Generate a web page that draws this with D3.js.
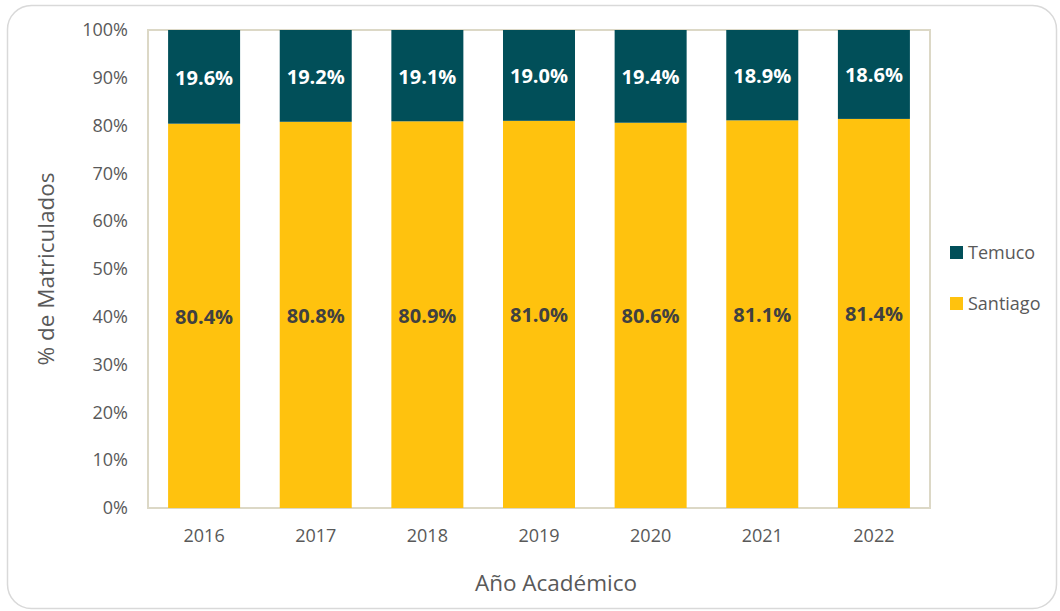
<!DOCTYPE html>
<meta charset="utf-8">
<script src="https://d3js.org/d3.v7.min.js"></script>
<style>
  body { margin: 0; background: #fff; }
  text { font-family: "Open Sans", sans-serif; }
</style>
<div id="chart"></div>
<script>
// data
const years = ["2016", "2017", "2018", "2019", "2020", "2021", "2022"];
const santiago = [80.4, 80.8, 80.9, 81.0, 80.6, 81.1, 81.4];
const temuco = [19.6, 19.2, 19.1, 19.0, 19.4, 18.9, 18.6];
const seriesNames = ["Santiago", "Temuco"];
const yTicks = [0, 10, 20, 30, 40, 50, 60, 70, 80, 90, 100];

const W = 1060, H = 611;
const margin = {top: 30, right: 130, bottom: 103, left: 148};
const width = W - margin.left - margin.right,
      height = H - margin.top - margin.bottom;
const font = "'Open Sans', sans-serif";

const color = d3.scaleOrdinal()
  .domain(seriesNames)
  .range(["#FFC20E", "#014F59"]);

const svg = d3.select("#chart").append("svg")
  .attr("width", W)
  .attr("height", H);

// outer rounded frame
svg.append("rect")
  .attr("x", 7.5).attr("y", 5.5)
  .attr("width", W - 11).attr("height", H - 8)
  .attr("rx", 24)
  .attr("fill", "#fff")
  .attr("stroke", "#d9d9d9")
  .attr("stroke-width", 1.5);

const g = svg.append("g")
  .attr("transform", `translate(${margin.left},${margin.top})`);

const table = years.map((y, i) => ({year: y, Santiago: santiago[i], Temuco: temuco[i]}));
const stacked = d3.stack().keys(seriesNames)(table);

const x = d3.scaleBand()
  .domain(years)
  .range([0, width])
  .paddingInner(0.355)
  .paddingOuter(0.18);

const y = d3.scaleLinear()
  .domain([0, 100])
  .range([height, 0]);

// plot area frame
g.append("rect")
  .attr("x", 0).attr("y", 0)
  .attr("width", width).attr("height", height)
  .attr("fill", "none")
  .attr("stroke", "#dcd8c6")
  .attr("stroke-width", 2);

// bars
g.selectAll("g.layer")
  .data(stacked)
  .join("g")
    .attr("class", "layer")
    .attr("fill", d => color(d.key))
  .selectAll("rect")
  .data(d => d)
  .join("rect")
    .attr("x", d => x(d.data.year))
    .attr("y", d => y(Math.min(d[1], 100)))
    .attr("width", x.bandwidth())
    .attr("height", d => y(d[0]) - y(Math.min(d[1], 100)));

// data labels
g.selectAll("g.labels")
  .data(stacked)
  .join("g")
    .attr("class", "labels")
  .selectAll("text")
  .data(d => d.map(v => ({v, key: d.key})))
  .join("text")
    .attr("x", d => x(d.v.data.year) + x.bandwidth() / 2)
    .attr("y", d => y((d.v[0] + Math.min(d.v[1], 100)) / 2) + 1)
    .attr("dy", "0.35em")
    .attr("text-anchor", "middle")
    .style("font-size", "20px")
    .style("font-weight", "bold")
    .attr("fill", d => d.key === "Temuco" ? "#ffffff" : "#404040")
    .text(d => d.v.data[d.key].toFixed(1) + "%");

// y axis
const yAxis = g.append("g")
  .call(d3.axisLeft(y).tickValues(yTicks).tickSize(0).tickPadding(20).tickFormat(d => d + "%"));
yAxis.select(".domain").remove();
yAxis.selectAll("text")
  .style("font-size", "18px")
  .style("font-family", font)
  .attr("fill", "#595959");

// x axis
const xAxis = g.append("g")
  .attr("transform", `translate(0,${height})`)
  .call(d3.axisBottom(x).tickSize(0).tickPadding(21));
xAxis.select(".domain").remove();
xAxis.selectAll("text")
  .style("font-size", "18px")
  .style("font-family", font)
  .attr("fill", "#595959");

// axis titles
svg.append("text")
  .attr("transform", `translate(54,${margin.top + height / 2}) rotate(-90)`)
  .attr("text-anchor", "middle")
  .style("font-size", "22.5px")
  .attr("fill", "#595959")
  .text("% de Matriculados");

svg.append("text")
  .attr("x", 556)
  .attr("y", 591)
  .attr("text-anchor", "middle")
  .style("font-size", "22.5px")
  .attr("fill", "#595959")
  .text("Año Académico");

// legend
const legendItems = ["Temuco", "Santiago"];
const legend = svg.append("g")
  .attr("transform", "translate(950,246)");
const li = legend.selectAll("g")
  .data(legendItems)
  .join("g")
    .attr("transform", (d, i) => `translate(0,${i * 51})`);
li.append("rect")
  .attr("width", 13).attr("height", 13)
  .attr("fill", d => color(d));
li.append("text")
  .attr("x", 18).attr("y", 7)
  .attr("dy", "0.35em")
  .style("font-size", "18px")
  .attr("fill", "#595959")
  .text(d => d);
</script>
